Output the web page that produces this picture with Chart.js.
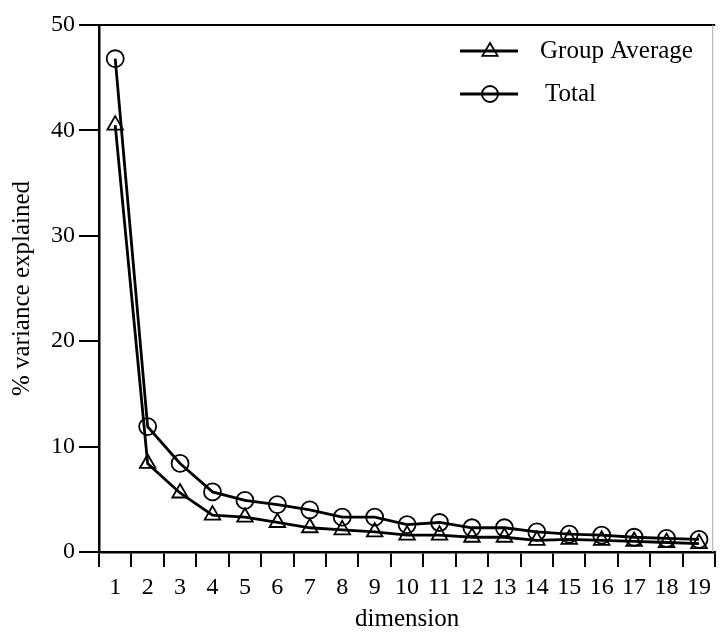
<!DOCTYPE html>
<html>
<head>
<meta charset="utf-8">
<script src="https://cdn.jsdelivr.net/npm/chart.js@4.4.1/dist/chart.umd.min.js"></script>
<style>
  html, body { margin: 0; padding: 0; background: #fff; }
  #wrap { width: 726px; height: 632px; }
</style>
</head>
<body>
<div id="wrap"><canvas id="c" width="726" height="632"></canvas></div>
<script>
const categories = ['1','2','3','4','5','6','7','8','9','10','11','12','13','14','15','16','17','18','19'];
const groupAverage = [40.5, 8.4, 5.6, 3.5, 3.3, 2.8, 2.3, 2.1, 1.9, 1.6, 1.6, 1.4, 1.4, 1.1, 1.2, 1.1, 1.0, 0.9, 0.8];
const total = [46.8, 11.9, 8.4, 5.7, 4.9, 4.5, 4.0, 3.3, 3.3, 2.6, 2.8, 2.3, 2.3, 1.9, 1.7, 1.6, 1.4, 1.3, 1.2];
const yTicks = [0, 10, 20, 30, 40, 50];
const seriesNames = ['Group Average', 'Total'];
const xTitle = 'dimension';
const yTitle = '% variance explained';

const SERIF = '"Liberation Serif", "DejaVu Serif", serif';

const frameAndLegend = {
  id: 'frameAndLegend',
  afterDraw(chart) {
    const ctx = chart.ctx;
    const a = chart.chartArea;
    ctx.save();
    ctx.strokeStyle = '#000';
    ctx.lineWidth = 2;
    ctx.beginPath();
    ctx.moveTo(a.left, a.top);
    ctx.lineTo(a.right, a.top);
    ctx.stroke();
    ctx.strokeStyle = '#aaa';
    ctx.lineWidth = 1;
    ctx.beginPath();
    ctx.moveTo(a.right - 2.5, a.top);
    ctx.lineTo(a.right - 2.5, a.bottom);
    ctx.stroke();
    const rows = [{y: 51}, {y: 94}];
    chart.data.datasets.forEach((ds, i) => {
      const y = rows[i].y;
      ctx.strokeStyle = '#000';
      ctx.lineWidth = 2.8;
      ctx.beginPath();
      ctx.moveTo(460, y);
      ctx.lineTo(518, y);
      ctx.stroke();
      ctx.lineWidth = 1.8;
      ctx.beginPath();
      const cx = 490, r = 8;
      if (ds.pointStyle === 'triangle') {
        ctx.moveTo(cx, y - r);
        ctx.lineTo(cx + r * 0.95, y + r * 0.6);
        ctx.lineTo(cx - r * 0.95, y + r * 0.6);
        ctx.closePath();
      } else {
        ctx.arc(cx, y, r, 0, Math.PI * 2);
      }
      ctx.stroke();
      ctx.fillStyle = '#000';
      ctx.font = '25px ' + SERIF;
      ctx.textBaseline = 'middle';
      ctx.textAlign = 'left';
      ctx.fillText(ds.label, i === 0 ? 540 : 545, y);
    });
    ctx.restore();
  }
};

new Chart(document.getElementById('c'), {
  type: 'line',
  data: {
    labels: categories,
    datasets: [
      {
        label: seriesNames[0],
        data: groupAverage,
        borderColor: '#000',
        borderWidth: 2.8,
        pointStyle: 'triangle',
        pointRadius: 9,
        pointBorderWidth: 1.8,
        pointBorderColor: '#000',
        pointBackgroundColor: 'rgba(255,255,255,0)',
        tension: 0
      },
      {
        label: seriesNames[1],
        data: total,
        borderColor: '#000',
        borderWidth: 2.8,
        pointStyle: 'circle',
        pointRadius: 8.5,
        pointBorderWidth: 1.8,
        pointBorderColor: '#000',
        pointBackgroundColor: 'rgba(255,255,255,0)',
        tension: 0
      }
    ]
  },
  options: {
    responsive: false,
    animation: false,
    devicePixelRatio: 1,
    layout: { padding: { top: 25, right: 0, bottom: 0, left: 0 } },
    plugins: {
      legend: { display: false },
      tooltip: { enabled: false }
    },
    scales: {
      x: {
        type: 'category',
        offset: true,
        afterFit(s) { s.height = 80; },
        grid: {
          offset: true,
          drawOnChartArea: false,
          drawTicks: true,
          tickLength: 15,
          color: '#000',
          lineWidth: 2
        },
        border: { display: true, color: '#000', width: 2.5 },
        ticks: {
          color: '#000',
          font: { family: SERIF, size: 24 },
          padding: 6,
          maxRotation: 0,
          autoSkip: false
        },
        title: {
          display: true,
          text: xTitle,
          color: '#000',
          font: { family: SERIF, size: 25, lineHeight: 1.0 },
          padding: { top: 0, bottom: 0 }
        }
      },
      y: {
        min: 0,
        max: 50,
        afterFit(s) { s.width = 99; },
        afterBuildTicks(s) { s.ticks = yTicks.map(v => ({ value: v })); },
        grid: {
          drawOnChartArea: false,
          drawTicks: true,
          tickLength: 20,
          color: '#000',
          lineWidth: 2
        },
        border: { display: true, color: '#000', width: 2.5 },
        ticks: {
          color: '#000',
          font: { family: SERIF, size: 24 },
          padding: 4
        },
        title: {
          display: true,
          text: yTitle,
          color: '#000',
          font: { family: SERIF, size: 25, lineHeight: 1.0 },
          padding: { top: 10, bottom: 10 }
        }
      }
    }
  },
  plugins: [frameAndLegend]
});
</script>
</body>
</html>
